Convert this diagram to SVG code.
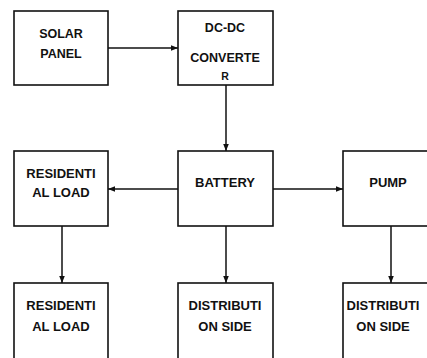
<svg xmlns="http://www.w3.org/2000/svg" width="427" height="358" viewBox="0 0 427 358">
<style>
.box{fill:#fff;stroke:#111;stroke-width:1.6}
.t{font-family:"Liberation Sans",Arial,sans-serif;font-weight:bold;font-size:12.5px;fill:#111;text-anchor:middle}
.l{font-size:13px}
.c{stroke:#111;stroke-width:1.5;fill:none}
</style>
<defs>
<marker id="a" viewBox="0 0 10 10" refX="10" refY="5" markerWidth="7" markerHeight="7" markerUnits="userSpaceOnUse" orient="auto">
<path d="M0,1 L10,5 L0,9 Z" fill="#111"/>
</marker>
</defs>
<rect width="427" height="358" fill="#fff"/>
<g id="connectors">
<line class="c" x1="108" y1="48" x2="178" y2="48" marker-end="url(#a)"/>
<line class="c" x1="226" y1="85" x2="226" y2="151" marker-end="url(#a)"/>
<line class="c" x1="178" y1="189" x2="108" y2="189" marker-end="url(#a)"/>
<line class="c" x1="273" y1="189" x2="343" y2="189" marker-end="url(#a)"/>
<line class="c" x1="62" y1="226" x2="62" y2="283" marker-end="url(#a)"/>
<line class="c" x1="226" y1="226" x2="226" y2="283" marker-end="url(#a)"/>
<line class="c" x1="391" y1="226" x2="391" y2="283" marker-end="url(#a)"/>
</g>
<g id="solar">
<rect class="box" x="14" y="11" width="94" height="74"/>
<text class="t" x="61" y="38">SOLAR</text>
<text class="t" x="61" y="58">PANEL</text>
</g>
<g id="dcdc">
<rect class="box" x="178" y="11" width="95" height="74"/>
<text class="t" x="225" y="32">DC-DC</text>
<text class="t" x="225" y="62">CONVERTE</text>
<text class="t" x="225" y="80" style="font-size:10.5px">R</text>
</g>
<g id="res1">
<rect class="box" x="14" y="151" width="94" height="75"/>
<text class="t l" x="61" y="178">RESIDENTI</text>
<text class="t l" x="61" y="197">AL LOAD</text>
</g>
<g id="battery">
<rect class="box" x="178" y="151" width="95" height="75"/>
<text class="t l" x="225" y="187">BATTERY</text>
</g>
<g id="pump">
<rect class="box" x="343" y="151" width="95" height="75"/>
<text class="t l" x="388" y="187">PUMP</text>
</g>
<g id="res2">
<rect class="box" x="14" y="283" width="94" height="80"/>
<text class="t l" x="61" y="310">RESIDENTI</text>
<text class="t l" x="61" y="331">AL LOAD</text>
</g>
<g id="dist1">
<rect class="box" x="178" y="283" width="95" height="80"/>
<text class="t l" x="225" y="310">DISTRIBUTI</text>
<text class="t l" x="225" y="331">ON SIDE</text>
</g>
<g id="dist2">
<rect class="box" x="343" y="283" width="95" height="80"/>
<text class="t l" x="383" y="310">DISTRIBUTI</text>
<text class="t l" x="383" y="331">ON SIDE</text>
</g>
</svg>
